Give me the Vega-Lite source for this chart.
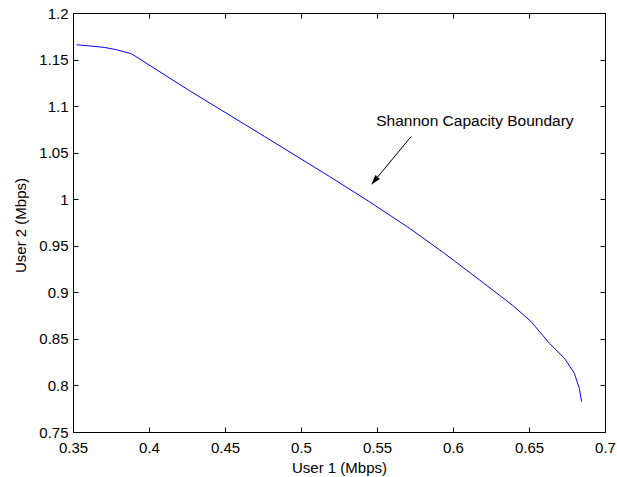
{
  "$schema": "https://vega.github.io/schema/vega-lite/v6.json",
  "width": 532,
  "height": 419,
  "autosize": "none",
  "padding": {"left": 73, "top": 13, "right": 12, "bottom": 45},
  "background": "white",
  "config": {
    "view": {"stroke": "black", "strokeWidth": 1},
    "font": "Liberation Sans",
    "axis": {
      "grid": false,
      "domain": false,
      "tickColor": "black",
      "tickSize": -5,
      "labelColor": "black",
      "labelFont": "Liberation Sans",
      "labelFontSize": 15,
      "titleColor": "black",
      "titleFont": "Liberation Sans",
      "titleFontSize": 15,
      "titleFontWeight": "normal"
    }
  },
  "datasets": {
    "curve": [
      {"u1": 0.3524, "u2": 1.1659},
      {"u1": 0.3592, "u2": 1.1649},
      {"u1": 0.3708, "u2": 1.1630},
      {"u1": 0.3785, "u2": 1.1606},
      {"u1": 0.3884, "u2": 1.1563},
      {"u1": 0.4267, "u2": 1.1165},
      {"u1": 0.4760, "u2": 1.0674},
      {"u1": 0.5188, "u2": 1.0244},
      {"u1": 0.5450, "u2": 0.9973},
      {"u1": 0.5713, "u2": 0.9689},
      {"u1": 0.5944, "u2": 0.9418},
      {"u1": 0.6174, "u2": 0.9134},
      {"u1": 0.6393, "u2": 0.8859},
      {"u1": 0.6514, "u2": 0.8685},
      {"u1": 0.6634, "u2": 0.8453},
      {"u1": 0.6733, "u2": 0.8292},
      {"u1": 0.6798, "u2": 0.8131},
      {"u1": 0.6831, "u2": 0.7970},
      {"u1": 0.6846, "u2": 0.7826}
    ],
    "label": [
      {"u1": 0.5495, "u2": 1.0789, "text": "Shannon Capacity Boundary"}
    ],
    "arrow": [
      {"u1": 0.5725, "u2": 1.0674, "u1end": 0.5483, "u2end": 1.0197}
    ]
  },
  "resolve": {"axis": {"x": "independent", "y": "independent"}},
  "layer": [
    {
      "data": {"name": "curve"},
      "mark": {"type": "line", "color": "#0000ff", "strokeWidth": 1},
      "encoding": {
        "x": {
          "field": "u1", "type": "quantitative",
          "scale": {"domain": [0.35, 0.7], "nice": false, "zero": false},
          "axis": {
            "orient": "bottom",
            "title": "User 1 (Mbps)",
            "values": [0.35, 0.4, 0.45, 0.5, 0.55, 0.6, 0.65, 0.7],
            "format": "~g",
            "labelPadding": 13,
            "labelFlush": false,
            "titleY": 40,
            "titleBaseline": "alphabetic"
          }
        },
        "y": {
          "field": "u2", "type": "quantitative",
          "scale": {"domain": [0.75, 1.2], "nice": false, "zero": false},
          "axis": {
            "orient": "left",
            "title": "User 2 (Mbps)",
            "values": [0.75, 0.8, 0.85, 0.9, 0.95, 1, 1.05, 1.1, 1.15, 1.2],
            "format": "~g",
            "labelPadding": 10,
            "labelFlush": false,
            "titleX": -48,
            "titleY": 212,
            "titleBaseline": "alphabetic"
          }
        },
        "order": {"field": "u1", "type": "quantitative"}
      }
    },
    {
      "data": {"name": "arrow"},
      "mark": {"type": "rule", "color": "black", "strokeWidth": 1},
      "encoding": {
        "x": {"field": "u1", "type": "quantitative", "axis": null},
        "y": {"field": "u2", "type": "quantitative", "axis": null},
        "x2": {"field": "u1end"},
        "y2": {"field": "u2end"}
      }
    },
    {
      "data": {"name": "arrow"},
      "mark": {"type": "point", "shape": "M0,-1L0.6,1L-0.6,1Z", "filled": true, "color": "black", "opacity": 1, "size": 100, "angle": 220},
      "encoding": {
        "x": {"field": "u1end", "type": "quantitative", "axis": null},
        "y": {"field": "u2end", "type": "quantitative", "axis": null}
      }
    },
    {
      "data": {"name": "label"},
      "mark": {"type": "text", "align": "left", "baseline": "alphabetic", "fontSize": 15.5, "font": "Liberation Sans", "color": "black"},
      "encoding": {
        "x": {
          "field": "u1", "type": "quantitative",
          "axis": {"orient": "top", "labels": false, "title": null, "values": [0.35, 0.4, 0.45, 0.5, 0.55, 0.6, 0.65, 0.7]}
        },
        "y": {
          "field": "u2", "type": "quantitative",
          "axis": {"orient": "right", "labels": false, "title": null, "values": [0.75, 0.8, 0.85, 0.9, 0.95, 1, 1.05, 1.1, 1.15, 1.2]}
        },
        "text": {"field": "text"}
      }
    }
  ]
}
